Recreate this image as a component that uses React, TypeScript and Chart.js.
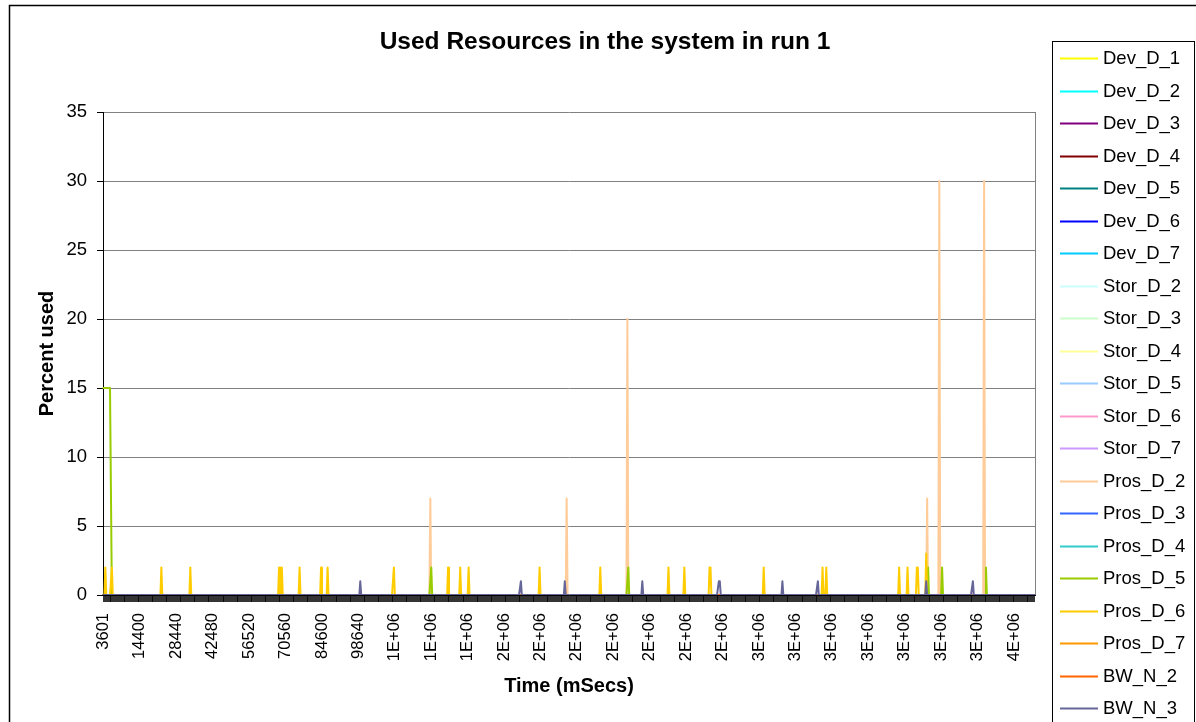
import React, { useEffect, useRef } from 'react';
import { Chart, registerables } from 'chart.js';

Chart.register(...registerables);

const FONT = '"Liberation Sans", Arial, Helvetica, sans-serif';

const chartTitle = 'Used Resources in the system in run 1';
const xAxisTitle = 'Time (mSecs)';
const yAxisTitle = 'Percent used';

const seriesNames = [
  'Dev_D_1', 'Dev_D_2', 'Dev_D_3', 'Dev_D_4', 'Dev_D_5', 'Dev_D_6', 'Dev_D_7',
  'Stor_D_2', 'Stor_D_3', 'Stor_D_4', 'Stor_D_5', 'Stor_D_6', 'Stor_D_7',
  'Pros_D_2', 'Pros_D_3', 'Pros_D_4', 'Pros_D_5', 'Pros_D_6', 'Pros_D_7',
  'BW_N_2', 'BW_N_3',
];

const seriesColors = [
  '#FFFF00', '#00FFFF', '#800080', '#800000', '#008080', '#0000FF', '#00CCFF',
  '#CCFFFF', '#CCFFCC', '#FFFF99', '#99CCFF', '#FF99CC', '#CC99FF',
  '#FFCC99', '#3366FF', '#33CCCC', '#99CC00', '#FFCC00', '#FF9900',
  '#FF6600', '#666699',
];

// x tick labels, one every `labelEvery` categories
const tickLabels = [
  '3601', '14400', '28440', '42480', '56520', '70560', '84600', '98640',
  '1E+06', '1E+06', '1E+06',
  '2E+06', '2E+06', '2E+06', '2E+06', '2E+06', '2E+06', '2E+06',
  '3E+06', '3E+06', '3E+06', '3E+06', '3E+06', '3E+06', '3E+06',
  '4E+06',
];
const labelEvery = 39;
const pointCount = 998;

const yTicks = { min: 0, max: 35, step: 5 };

// Non-zero readings as [category index, percent]; every other sample is 0
const prosD2Points: [number, number][] = [
  [350, 7], [496, 7], [561, 20], [882, 7], [895, 30], [943, 30],
];
const prosD5Points: [number, number][] = [
  [0, 15], [1, 15], [2, 15], [3, 15], [4, 15], [5, 15], [6, 15], [7, 15], [8, 15],
  [350, 1], [351, 2], [561, 1], [562, 2], [883, 2], [898, 2], [945, 2],
];
const prosD6Points: [number, number][] = [
  [2, 2], [9, 2], [62, 2], [93, 2], [188, 2], [191, 2], [210, 2], [233, 2], [240, 2],
  [311, 2], [369, 2], [382, 2], [391, 2], [467, 2], [532, 2], [605, 2], [622, 2],
  [649, 2], [650, 2], [707, 2], [770, 2], [774, 2], [852, 2], [861, 2], [871, 2],
  [872, 2], [881, 3],
];
const bwN3Points: [number, number][] = [
  [275, 1], [447, 1], [494, 1], [577, 1], [659, 1], [660, 1], [727, 1], [765, 1],
  [881, 1], [931, 1],
];

const nonZeroBySeries: Record<string, [number, number][]> = {
  Pros_D_2: prosD2Points,
  Pros_D_5: prosD5Points,
  Pros_D_6: prosD6Points,
  BW_N_3: bwN3Points,
};

function buildSeries(points: [number, number][] | undefined): number[] {
  const arr: number[] = new Array(pointCount).fill(0);
  (points || []).forEach(([i, v]) => { arr[i] = v; });
  return arr;
}

const categoryLabels: string[] = Array.from({ length: pointCount }, (_, i) =>
  i % labelEvery === 0 && tickLabels[i / labelEvery] !== undefined ? tickLabels[i / labelEvery] : ''
);

const decorPlugin = {
  id: 'excelDecor',
  beforeDraw(chart: any) {
    const { ctx, width, height } = chart;
    ctx.save();
    ctx.fillStyle = '#ffffff';
    ctx.fillRect(0, 0, width, height);
    ctx.strokeStyle = '#000000';
    ctx.lineWidth = 1.5;
    ctx.beginPath();
    ctx.moveTo(9.5, height + 5);
    ctx.lineTo(9.5, 5.5);
    ctx.lineTo(width + 5, 5.5);
    ctx.stroke();
    ctx.restore();
  },
  afterDraw(chart: any) {
    const { ctx, chartArea } = chart;
    ctx.save();
    // plot area border (right side)
    ctx.strokeStyle = '#808080';
    ctx.lineWidth = 1;
    ctx.beginPath();
    ctx.moveTo(Math.round(chartArea.right) + 0.5, chartArea.top);
    ctx.lineTo(Math.round(chartArea.right) + 0.5, chartArea.bottom);
    ctx.stroke();

    // title
    ctx.fillStyle = '#000';
    ctx.font = `bold 24.5px ${FONT}`;
    ctx.textAlign = 'center';
    ctx.textBaseline = 'alphabetic';
    ctx.fillText(chartTitle, 605, 49);

    // legend
    const lx = 1052.5, ly = 41.5;
    ctx.strokeStyle = '#000';
    ctx.lineWidth = 1;
    ctx.fillStyle = '#fff';
    ctx.fillRect(lx, ly, 142, 700);
    ctx.strokeRect(lx, ly, 142, 700);
    ctx.font = `18.5px ${FONT}`;
    ctx.textAlign = 'left';
    ctx.textBaseline = 'middle';
    seriesNames.forEach((name, i) => {
      const y = 58 + i * 32.5;
      ctx.strokeStyle = seriesColors[i];
      ctx.lineWidth = 2;
      ctx.beginPath();
      ctx.moveTo(1060, Math.round(y) + 0.5);
      ctx.lineTo(1098, Math.round(y) + 0.5);
      ctx.stroke();
      ctx.fillStyle = '#000';
      ctx.fillText(name, 1103, y + 1);
    });
    ctx.restore();
  },
};

export default function App() {
  const canvasRef = useRef<HTMLCanvasElement | null>(null);

  useEffect(() => {
    const canvas = canvasRef.current;
    if (!canvas) return;
    const n = seriesNames.length;
    const datasets = seriesNames.map((name, i) => ({
      label: name,
      data: buildSeries(nonZeroBySeries[name]),
      borderColor: seriesColors[i],
      backgroundColor: seriesColors[i],
      borderWidth: 2,
      borderJoinStyle: 'round',
      borderCapStyle: 'round',
      pointRadius: 0,
      tension: 0,
      fill: false,
      order: n - 1 - i,
    }));

    const chart = new Chart(canvas, {
      type: 'line',
      data: { labels: categoryLabels, datasets },
      options: {
        responsive: false,
        animation: false,
        events: [],
        devicePixelRatio: 1,
        layout: { padding: { left: 0, top: 112, right: 161, bottom: 0 } },
        plugins: {
          legend: { display: false },
          title: { display: false },
          tooltip: { enabled: false },
        },
        scales: {
          x: {
            type: 'category',
            offset: true,
            grid: {
              display: true,
              drawOnChartArea: false,
              drawTicks: true,
              tickLength: 7,
              tickWidth: 0.8,
              tickColor: '#000',
              color: '#000',
            },
            border: { display: true, color: '#000', width: 1 },
            ticks: {
              autoSkip: false,
              minRotation: 90,
              maxRotation: 90,
              padding: 11,
              color: '#000',
              font: { family: FONT, size: 16.5 },
              callback: (_v: any, i: number) => categoryLabels[i],
            },
            title: {
              display: true,
              text: xAxisTitle,
              color: '#000',
              font: { family: FONT, size: 20, weight: 'bold' },
              padding: { top: 0, bottom: 24 },
            },
            afterFit: (s: any) => { s.height = 127; },
          },
          y: {
            min: yTicks.min,
            max: yTicks.max,
            ticks: {
              stepSize: yTicks.step,
              padding: 10,
              color: '#000',
              font: { family: FONT, size: 18.5 },
            },
            grid: { color: '#808080', tickColor: '#000', tickLength: 6, lineWidth: 1 },
            border: { display: true, color: '#000', width: 1 },
            title: {
              display: true,
              text: yAxisTitle,
              color: '#000',
              font: { family: FONT, size: 20, weight: 'bold' },
              padding: { top: 35, bottom: 0 },
            },
            afterFit: (s: any) => { s.width = 103; },
          },
        },
      } as any,
      plugins: [decorPlugin],
    });
    return () => chart.destroy();
  }, []);

  return (
    <div style={{ position: 'fixed', left: 0, top: 0, width: 1196, height: 722, background: '#fff', overflow: 'hidden' }}>
      <canvas ref={canvasRef} width={1196} height={722} style={{ display: 'block' }} />
    </div>
  );
}
